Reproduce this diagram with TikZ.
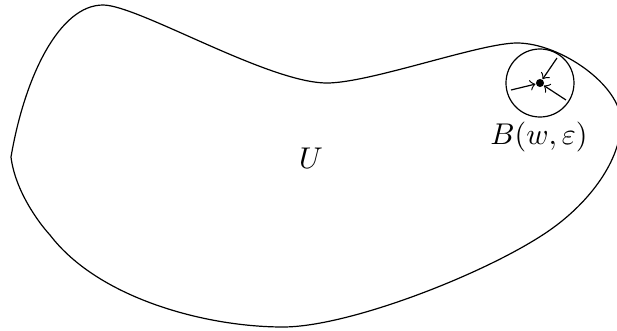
\documentclass[tikz,border=0pt]{standalone}
\usetikzlibrary{arrows}
\begin{document}
\begin{tikzpicture}[x=0.33333pt,y=-0.33333pt,
  ptr/.style={->,line width=0.4pt},
  dotnode/.style={circle,fill=black,inner sep=0pt,minimum size=2.7pt},
  ballnode/.style={circle,draw,inner sep=0pt,minimum size=22.67pt}]
\useasboundingbox (0,0) rectangle (617,331);
\draw (11,157) .. controls (25,75) and (60,5) .. (103,5)
  .. controls (138,5) and (268,83) .. (327,83)
  .. controls (370,83) and (480,43) .. (517,43)
  .. controls (560,43) and (621,85) .. (621,122)
  .. controls (621,160) and (590,202) .. (550,230)
  .. controls (490,272) and (350,327) .. (283,327)
  .. controls (205,327) and (98,298) .. (50,235)
  .. controls (38,222) and (15,190) .. (11,157) -- cycle;
\node[ballnode] (ball) at (540,83) {};
\node[dotnode] (w) at (540,83) {};
\coordinate (a1) at (511,90);
\coordinate (a2) at (557,58);
\coordinate (a3) at (566,100);
\draw[ptr] (a1) -- (w);
\draw[ptr] (a2) -- (w);
\draw[ptr] (a3) -- (w);
\node (lab) at (539,137) {$B(w,\varepsilon)$};
\node (U) at (311,158) {$U$};
\end{tikzpicture}
\end{document}
